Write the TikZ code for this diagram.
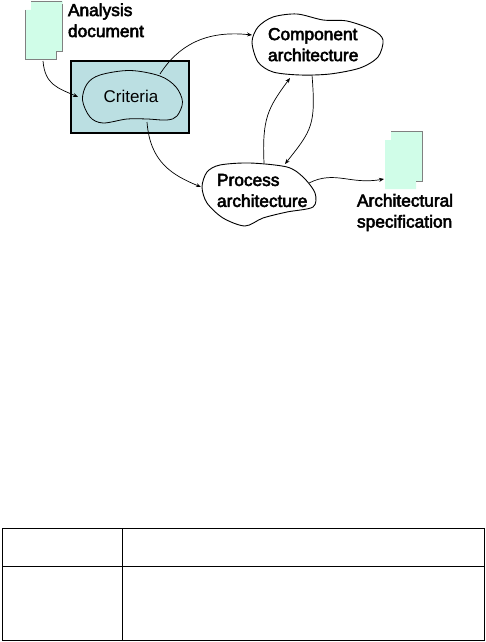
\documentclass[tikz,border=0pt]{standalone}
\usepackage{fontspec}
\setmainfont{Liberation Sans}
\newfontfamily\fakeb[FakeBold=3]{Liberation Sans}
\usetikzlibrary{arrows.meta}
\definecolor{docfill}{HTML}{D0FDE8}
\definecolor{boxfill}{HTML}{BBDFE2}
\tikzset{
  x=1pt,y=-1pt,
  blob/.style={black,line width=0.9pt,fill=white},
  conn/.style={black,line width=0.7pt,-{Stealth[length=5pt,width=4pt]}},
  doc/.style={fill=docfill,draw=none},
  docedge/.style={draw=gray,line width=0.9pt},
  label/.style={inner sep=0pt,outer sep=0pt,anchor=north west,align=left,font=\fakeb\fontsize{17.3}{21}\selectfont},
  cell/.style={draw=black,line width=1pt,fill=white,inner sep=0pt},
}
\begin{document}
\begin{tikzpicture}
\useasboundingbox (0,0) rectangle (485,642);
% analysis document
\fill[doc] (25.5,10) -- (31,10) -- (31,1) -- (62.5,1) -- (62.5,51) -- (56.5,51) -- (56.5,59.5) -- (25.5,59.5) -- cycle;
\draw[docedge] (25.5,10) -- (25.5,59.5) -- (56.5,59.5) -- (56.5,51) -- (62.5,51) -- (62.5,4);
\draw[docedge,line width=0.5pt] (31,1) -- (62,1);
% criteria box
\node[draw=black,line width=1.1pt,fill=boxfill,minimum width=118pt,minimum height=72pt,inner sep=0pt] (box) at (130,97) {};
\draw[line width=1.6pt] (box.south west) -- (box.south east);
\draw[line width=0.8pt] plot[smooth cycle,tension=0.55] coordinates {(82.5,100)(87,84)(100,75)(130,70.5)(160,76)(176,87)(182.5,102)(177,116)(167,120)(147,119)(127,119)(103,123)(90,117)};
\node[inner sep=0pt,font=\fontsize{17}{20}\selectfont] (crit) at (131,96) {Criteria};
% component blob
\draw[blob] plot[smooth cycle,tension=0.5] coordinates {(252,42)(258,27)(273,17)(297,14)(323,20)(347,21)(373,30)(383,40)(378,57)(360,68)(330,74)(300,75)(273,72)(258,62)};
\node[label] (comp) at (268,28) {Component\\architecture};
% process blob
\draw[blob] plot[smooth cycle,tension=0.5] coordinates {(202,187)(207,172)(220,165)(250,163)(287,167)(303,177)(315,193)(313,207)(287,212)(263,218)(245,226)(223,218)(207,203)};
\node[label] (proc) at (217,174) {Process\\architecture};
% architectural specification document
\fill[doc] (385,140) -- (391,140) -- (391,131) -- (422,131) -- (422,181) -- (416,181) -- (416,189) -- (385,189) -- cycle;
\draw[docedge] (391,131) -- (422,131) -- (422,181) -- (416,181);
% labels
\node[label] (adoc) at (68,3.5) {Analysis\\document};
\node[label] (aspec) at (357,194) {Architectural\\specification};
% connector ends
\coordinate (a1) at (43,61);
\coordinate (a2) at (78,97);
\coordinate (b1) at (160,74);
\coordinate (b2) at (252,35);
\coordinate (c1) at (147,122);
\coordinate (c2) at (201,187);
\coordinate (d1) at (264,163);
\coordinate (d2) at (290,78);
\coordinate (e1) at (312,75);
\coordinate (e2) at (285,164);
\coordinate (f1) at (309,183);
\coordinate (f2) at (384,179);
\draw[conn] (a1) .. controls (45,85) and (58,88) .. (a2);
\draw[conn] (b1) .. controls (178,46) and (205,30) .. (b2);
\draw[conn] (c1) .. controls (150,162) and (172,175) .. (c2);
\draw[conn] (d1) .. controls (262,118) and (268,108) .. (d2);
\draw[conn] (e1) .. controls (316,125) and (312,130) .. (e2);
\draw[conn] (f1) .. controls (335,170) and (350,185) .. (f2);
% table
\node[cell,minimum width=120pt,minimum height=37.5pt,anchor=north west] (t1) at (1.5,528) {};
\node[cell,minimum width=362.5pt,minimum height=37.5pt,anchor=north west] (t2) at (121.5,528) {};
\node[cell,minimum width=120pt,minimum height=74.5pt,anchor=north west] (t3) at (1.5,565.5) {};
\node[cell,minimum width=362.5pt,minimum height=74.5pt,anchor=north west] (t4) at (121.5,565.5) {};
\end{tikzpicture}
\end{document}
